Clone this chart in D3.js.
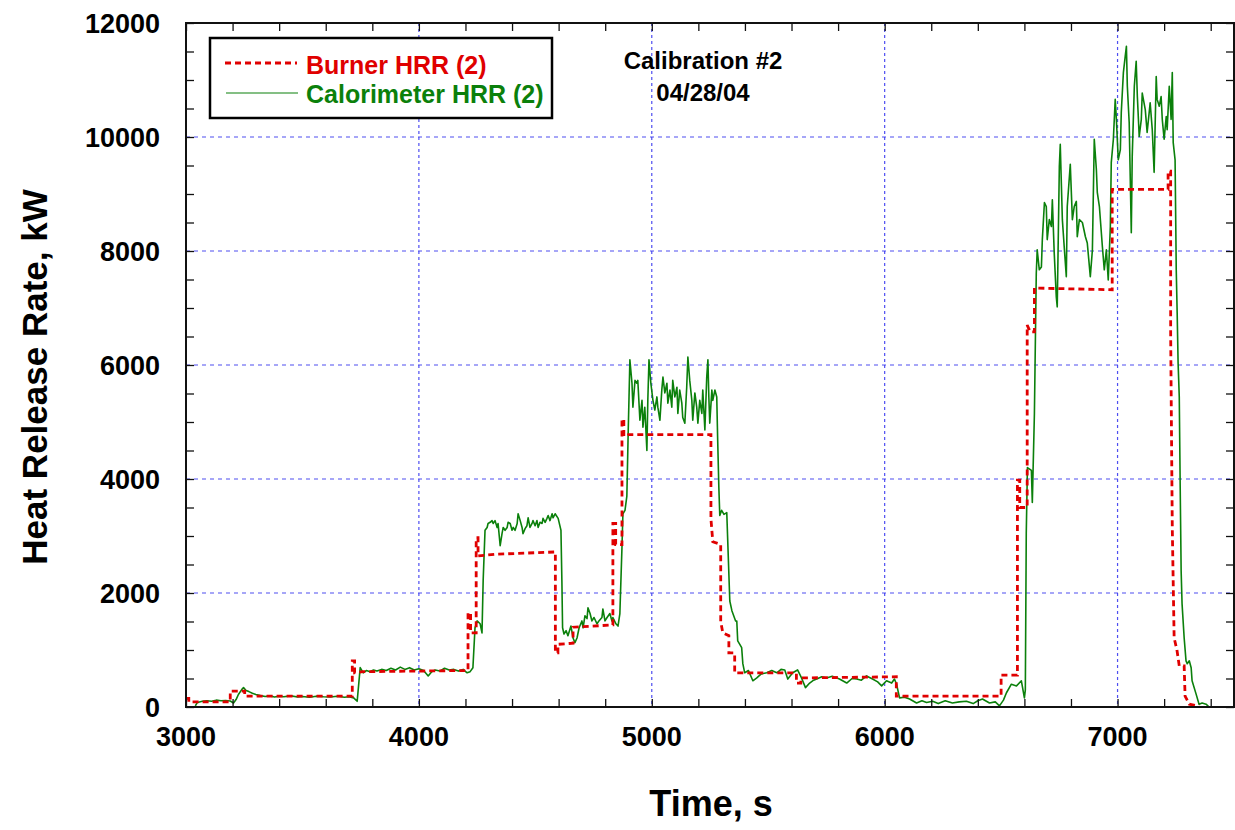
<!DOCTYPE html>
<html>
<head>
<meta charset="utf-8">
<script src="https://cdn.jsdelivr.net/npm/d3@7"></script>
<style>
  html, body { margin: 0; padding: 0; background: #fff; }
  svg text { font-family: "Liberation Sans", Arial, sans-serif; font-weight: bold; }
</style>
</head>
<body>
<svg id="chart" width="1235" height="830"></svg>
<script>
// ---------------- DATA ----------------
const xTickValues = [3000, 4000, 5000, 6000, 7000];
const yTickValues = [0, 2000, 4000, 6000, 8000, 10000, 12000];
const xMinorStep = 200;
const yMinorStep = 500;

const seriesNames = ["Burner HRR (2)", "Calorimeter HRR (2)"];
const titleLines = ["Calibration #2", "04/28/04"];
const xTitle = "Time, s";
const yTitle = "Heat Release Rate, kW";

// Burner HRR (step trace)
const burnerTime = [3000,3012,3012,3190,3190,3252,3252,3714,3714,3724,3724,3760,4211,4211,4222,4222,4246,4246,4254,4254,4330,4586,4586,4597,4597,4662,4662,4833,4833,4845,4845,4872,4872,4880,4880,4900,5254,5254,5262,5296,5296,5305,5331,5331,5356,5356,5621,5621,5640,5640,6050,6050,6500,6500,6570,6570,6580,6580,6612,6612,6625,6643,6643,6977,6977,7217,7217,7228,7228,7235,7243,7255,7265,7286,7290,7308,7350];
const burnerHRR  = [150,150,90,90,280,280,190,190,810,810,600,620,640,1650,1650,1300,1300,2970,2970,2650,2680,2720,950,950,1100,1120,1400,1440,3220,3220,2850,2850,5050,5050,4750,4780,4780,3300,2900,2850,1500,1300,1250,950,950,600,600,420,420,510,530,190,190,560,560,3980,3980,3500,3500,6700,6580,6580,7350,7320,9080,9080,9400,9400,6560,3150,1210,1000,720,720,190,50,15];

// Calorimeter HRR
const calTime = [3040,3049,3070,3090,3110,3130,3150,3170,3190,3204,3215,3225,3240,3247,3258,3270,3285,3300,3320,3340,3360,3380,3400,3420,3450,3480,3500,3530,3560,3590,3620,3650,3680,3700,3720,3735,3748,3761,3775,3790,3805,3820,3840,3860,3880,3900,3920,3940,3960,3980,4000,4020,4040,4055,4070,4090,4110,4130,4150,4170,4190,4207,4220,4232,4241,4250,4263,4271,4276,4284,4293,4297,4306,4314,4319,4327,4336,4340,4349,4357,4362,4370,4379,4383,4392,4400,4405,4413,4422,4426,4435,4443,4447,4456,4464,4469,4477,4486,4490,4499,4507,4512,4520,4529,4533,4542,4550,4555,4563,4572,4576,4585,4598,4610,4614,4617,4623,4632,4640,4653,4662,4670,4679,4688,4700,4705,4713,4722,4726,4735,4743,4752,4765,4773,4786,4790,4799,4808,4820,4829,4833,4846,4855,4863,4872,4876,4885,4893,4898,4906,4915,4919,4928,4936,4940,4949,4958,4962,4970,4979,4983,4988,4996,5005,5013,5022,5026,5035,5043,5048,5056,5065,5069,5078,5086,5090,5099,5108,5112,5120,5129,5133,5142,5150,5155,5163,5172,5176,5185,5193,5198,5206,5215,5219,5228,5236,5241,5245,5249,5258,5262,5271,5279,5283,5288,5292,5300,5310,5322,5335,5344,5360,5365,5369,5386,5391,5399,5415,5434,5451,5470,5494,5515,5537,5555,5571,5584,5605,5626,5643,5660,5678,5695,5708,5730,5750,5775,5806,5837,5860,5880,5900,5922,5948,5970,5987,6008,6030,6042,6051,6064,6085,6107,6137,6160,6180,6206,6230,6260,6291,6320,6351,6380,6400,6420,6450,6475,6493,6510,6523,6544,6566,6587,6600,6604,6608,6613,6630,6634,6643,6651,6655,6664,6673,6677,6686,6694,6698,6707,6716,6720,6728,6737,6741,6750,6754,6763,6771,6780,6784,6797,6806,6814,6823,6827,6836,6849,6862,6870,6883,6892,6900,6909,6913,6922,6935,6943,6952,6960,6969,6973,6982,6990,6995,7003,7012,7016,7025,7033,7038,7042,7050,7059,7063,7072,7080,7085,7093,7102,7106,7119,7127,7140,7149,7157,7166,7170,7179,7187,7192,7200,7209,7213,7222,7230,7235,7239,7247,7252,7256,7260,7265,7269,7273,7277,7286,7294,7299,7308,7316,7320,7337,7350,7363,7380,7393];
const calHRR  = [20,80,100,110,100,120,110,115,105,70,130,220,310,340,290,270,240,220,200,185,195,175,190,180,195,175,185,170,190,180,175,190,170,180,160,100,690,600,640,620,650,630,660,640,680,650,700,660,690,650,670,640,545,620,650,630,680,650,660,630,660,600,620,690,1390,1510,1460,1300,2220,3100,3150,3220,3240,3270,3220,3270,3150,3220,2830,3040,3150,3100,3150,3240,3220,3100,3150,3100,3220,3390,3270,3150,3040,3130,3180,3320,3150,3220,3270,3180,3270,3150,3240,3220,3310,3240,3310,3360,3270,3390,3320,3390,3310,3100,2220,1390,1280,1340,1250,1420,1210,1130,1210,1390,1510,1390,1600,1550,1740,1640,1510,1570,1460,1510,1570,1720,1510,1570,1640,1510,1570,1460,1420,1640,2800,3390,3450,3700,4680,6090,5680,5260,5730,5680,5730,5030,5380,4910,5260,4500,5380,6090,5680,5380,5210,5440,5260,5030,5560,5790,5510,5680,5330,5560,5260,5730,5440,5610,5150,5560,5330,5080,4980,5610,6140,5730,5380,5030,5510,5260,4980,5380,5150,5560,4860,5790,6090,5440,4980,5560,5380,5560,5440,4680,3850,3360,3450,3380,3410,1860,1690,1510,1510,1160,1040,760,600,640,460,510,580,600,640,600,660,650,490,600,650,510,340,420,470,490,530,510,540,490,420,500,490,470,545,490,440,370,460,420,490,400,160,170,140,70,110,80,100,60,110,70,90,100,60,110,140,70,90,20,120,250,400,370,460,160,300,3050,4200,4150,3590,5150,7610,8020,7670,7720,8200,8850,8780,8200,8550,8430,8900,7970,7190,7020,9480,9870,8550,8070,7550,8780,9520,8550,8780,8870,8250,8550,8500,8250,8140,7550,8020,9960,9430,9030,8780,8070,7670,8020,7490,8430,9550,9960,10660,10310,9600,9780,10430,11130,11420,11590,10890,10250,8320,9660,10890,11330,10710,10010,10310,10770,10480,10080,10600,10130,9380,11060,10660,10540,10710,10310,9960,10360,10130,10890,10310,11130,9900,9600,7670,6910,6030,5440,3850,2390,1810,1210,810,760,810,690,460,230,50,70,50,0];

// ---------------- LAYOUT ----------------
const L = 186, R = 1234, T = 23, B = 707;
const svg = d3.select("#chart");

const x = d3.scaleLinear().domain([3000, 7500]).range([L, R]);
const y = d3.scaleLinear().domain([0, 12000]).range([B, T]);

const gridColor = "#3c3cf0";
const red = "#e00000";
const green = "#0b800b";

// Gridlines
const gridG = svg.append("g");
gridG.selectAll("line.vx").data(xTickValues.filter(v => v > 3000)).enter()
  .append("line")
  .attr("x1", d => x(d)).attr("x2", d => x(d))
  .attr("y1", T).attr("y2", B)
  .attr("stroke", gridColor).attr("stroke-width", 1.2)
  .attr("stroke-dasharray", "3,3").attr("opacity", 0.9);
gridG.selectAll("line.hy").data(yTickValues.filter(v => v > 0 && v < 12000)).enter()
  .append("line")
  .attr("x1", L).attr("x2", R)
  .attr("y1", d => y(d)).attr("y2", d => y(d))
  .attr("stroke", gridColor).attr("stroke-width", 1.2)
  .attr("stroke-dasharray", "4,4").attr("opacity", 0.9);

// Lines
const calData = calTime.map((t, i) => [t, calHRR[i]]);
const burnerData = burnerTime.map((t, i) => [t, burnerHRR[i]]);
const lineGen = d3.line().x(d => x(d[0])).y(d => y(d[1]));

svg.append("path").datum(calData)
  .attr("d", lineGen).attr("fill", "none")
  .attr("stroke", green).attr("stroke-width", 1.6)
  .attr("stroke-linejoin", "round");

svg.append("path").datum(burnerData)
  .attr("d", lineGen).attr("fill", "none")
  .attr("stroke", red).attr("stroke-width", 2.8)
  .attr("stroke-dasharray", "6,4");

// Axes with inward ticks (minor)
const xMinor = d3.range(3000, 7500 + 1, xMinorStep);
const yMinor = d3.range(0, 12000 + 1, yMinorStep);

const bottomAxis = d3.axisBottom(x).tickValues(xMinor).tickSize(-8).tickFormat("");
const topAxis = d3.axisTop(x).tickValues(xMinor).tickSize(-8).tickFormat("");
const leftAxis = d3.axisLeft(y).tickValues(yMinor).tickSize(-8).tickFormat("");
const rightAxis = d3.axisRight(y).tickValues(yMinor).tickSize(-8).tickFormat("");

function styleAxis(g) {
  g.select(".domain").remove();
  g.selectAll(".tick line").attr("stroke", "#111").attr("stroke-width", 1.3);
}
svg.append("g").attr("transform", `translate(0,${B})`).call(bottomAxis).call(styleAxis);
svg.append("g").attr("transform", `translate(0,${T})`).call(topAxis).call(styleAxis);
svg.append("g").attr("transform", `translate(${L},0)`).call(leftAxis).call(styleAxis);
svg.append("g").attr("transform", `translate(${R},0)`).call(rightAxis).call(styleAxis);

// Frame
svg.append("rect").attr("x", L).attr("y", T).attr("width", R - L).attr("height", B - T)
  .attr("fill", "none").attr("stroke", "#111").attr("stroke-width", 2);

// Tick labels
svg.append("g").selectAll("text").data(xTickValues).enter().append("text")
  .attr("x", d => x(d)).attr("y", 746)
  .attr("text-anchor", "middle").attr("font-size", 27).attr("fill", "#000")
  .text(d => d);
svg.append("g").selectAll("text").data(yTickValues).enter().append("text")
  .attr("x", 160).attr("y", d => y(d) + 9.5)
  .attr("text-anchor", "end").attr("font-size", 27).attr("fill", "#000")
  .text(d => d);

// Axis titles
svg.append("text").attr("x", 711).attr("y", 816)
  .attr("text-anchor", "middle").attr("font-size", 36).attr("fill", "#000")
  .text(xTitle);
svg.append("text")
  .attr("transform", `translate(47,${(T + B) / 2 + 12}) rotate(-90)`)
  .attr("text-anchor", "middle").attr("font-size", 35).attr("fill", "#000")
  .text(yTitle);

// Annotation
svg.append("text").attr("x", 703).attr("y", 69)
  .attr("text-anchor", "middle").attr("font-size", 24).attr("fill", "#000")
  .text(titleLines[0]);
svg.append("text").attr("x", 703).attr("y", 101)
  .attr("text-anchor", "middle").attr("font-size", 24).attr("fill", "#000")
  .text(titleLines[1]);

// Legend
const lg = svg.append("g");
lg.append("rect").attr("x", 210).attr("y", 38).attr("width", 342).attr("height", 80)
  .attr("fill", "#fff").attr("stroke", "#000").attr("stroke-width", 2.5);
lg.append("line").attr("x1", 225).attr("x2", 297).attr("y1", 63).attr("y2", 63)
  .attr("stroke", red).attr("stroke-width", 2.8).attr("stroke-dasharray", "6,4");
lg.append("line").attr("x1", 226).attr("x2", 298).attr("y1", 93).attr("y2", 93)
  .attr("stroke", green).attr("stroke-width", 1.2);
lg.append("text").attr("x", 306).attr("y", 74).attr("font-size", 25).attr("fill", red)
  .text(seriesNames[0]);
lg.append("text").attr("x", 306).attr("y", 103).attr("font-size", 25).attr("fill", green)
  .text(seriesNames[1]);
</script>
</body>
</html>
